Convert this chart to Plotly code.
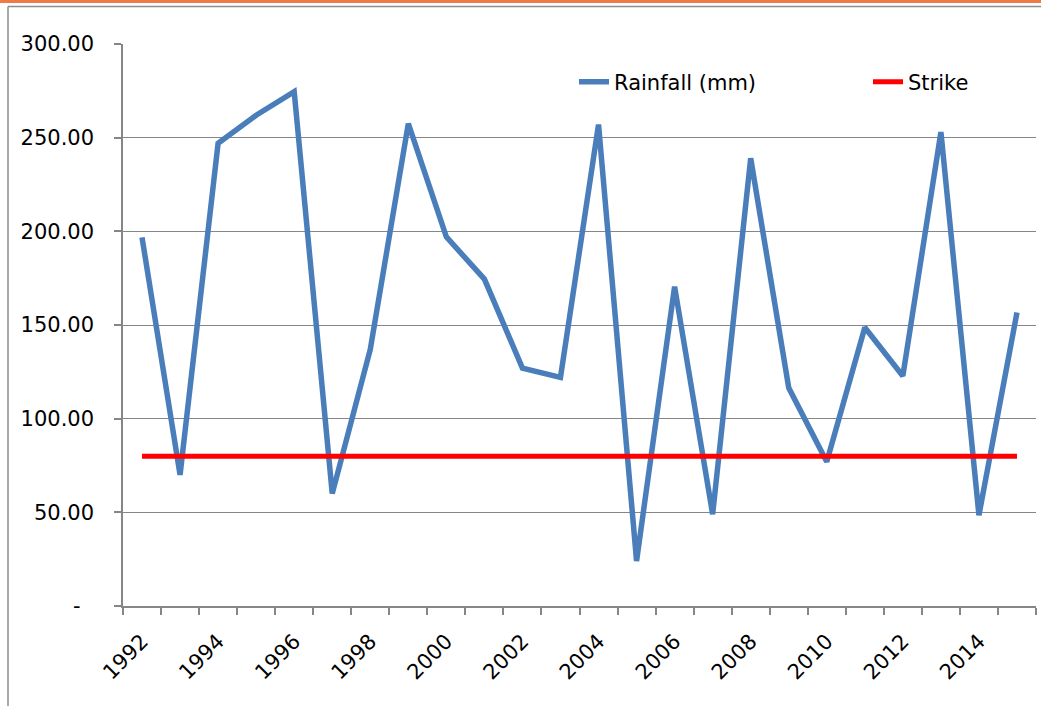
import plotly.graph_objects as go

years = list(range(1992, 2016))
rainfall = [196.8, 70, 247, 262, 274.5, 60, 137, 257.5, 197, 174.5, 127, 122,
            257, 24, 170.5, 49, 239, 116.5, 77, 148.7, 122.8, 253, 48.5, 156.7]
strike = [80] * len(years)

y_tickvals = [0, 50, 100, 150, 200, 250, 300]
y_ticktext = ["-\u00a0\u00a0", "50.00", "100.00", "150.00", "200.00", "250.00", "300.00"]
x_tickvals = list(range(1992, 2015, 2))
x_ticktext = [str(v) for v in x_tickvals]

W, H = 1041, 706
ML, MR, MT, MB = 123, 5, 44, 100
PW, PH = W - ML - MR, H - MT - MB

def px_x(p):
    return (p - ML) / PW

def px_y(p):
    return (H - MB - p) / PH

FONT = "DejaVu Sans"
FS = 21
GRID = "#868686"

fig = go.Figure()
fig.add_trace(go.Scatter(x=years, y=rainfall, mode="lines", name="Rainfall (mm)",
                         line=dict(color="#4A7EBB", width=5.5), legend="legend"))
fig.add_trace(go.Scatter(x=years, y=strike, mode="lines", name="Strike",
                         line=dict(color="#FF0000", width=5), legend="legend2"))

legend_common = dict(orientation="h", yanchor="middle", y=px_y(82), xanchor="left",
                     bgcolor="rgba(0,0,0,0)", font=dict(size=FS, family=FONT, color="#000000"),
                     itemwidth=30)

fig.update_layout(
    autosize=False,
    width=W, height=H,
    margin=dict(l=ML, r=MR, t=MT, b=MB, pad=0, autoexpand=False),
    paper_bgcolor="white", plot_bgcolor="white",
    font=dict(family=FONT, size=FS, color="#000000"),
    showlegend=True,
    legend=dict(legend_common, x=px_x(574)),
    legend2=dict(legend_common, x=px_x(868)),
    xaxis=dict(range=[1991.5, 2015.5], tickmode="array", tickvals=x_tickvals, ticktext=x_ticktext,
               tickangle=-45, ticks="", showgrid=False, showline=True, linecolor=GRID, linewidth=1.5,
               zeroline=False, tickfont=dict(size=FS, family=FONT), ticklabelstandoff=13,
               minor=dict(tickmode="linear", tick0=1991.5, dtick=1, ticks="outside", ticklen=7,
                          tickcolor=GRID, tickwidth=1.5, showgrid=False)),
    yaxis=dict(range=[0, 300], tickmode="array", tickvals=y_tickvals, ticktext=y_ticktext,
               ticks="outside", ticklen=7, tickcolor=GRID, tickwidth=1.5,
               showgrid=True, gridcolor=GRID, gridwidth=1.2,
               showline=True, linecolor=GRID, linewidth=1.5, zeroline=False,
               ticklabelstandoff=16, tickfont=dict(size=FS, family=FONT)),
    shapes=[
        dict(type="rect", xref="paper", yref="paper", x0=px_x(0), x1=px_x(W), y0=px_y(0), y1=px_y(3),
             fillcolor="#EE7A45", line=dict(width=0), layer="above"),
        dict(type="line", xref="paper", yref="paper", x0=px_x(8), x1=px_x(W), y0=px_y(6.5), y1=px_y(6.5),
             line=dict(color="#8C8C8C", width=1.5)),
        dict(type="line", xref="paper", yref="paper", x0=px_x(8), x1=px_x(8), y0=px_y(6.5), y1=px_y(H),
             line=dict(color="#8C8C8C", width=1.5)),
    ],
)

fig.write_html("out.html", config={"responsive": False, "displayModeBar": False},
               post_script="document.body.style.margin='0';document.body.style.overflow='hidden';")
